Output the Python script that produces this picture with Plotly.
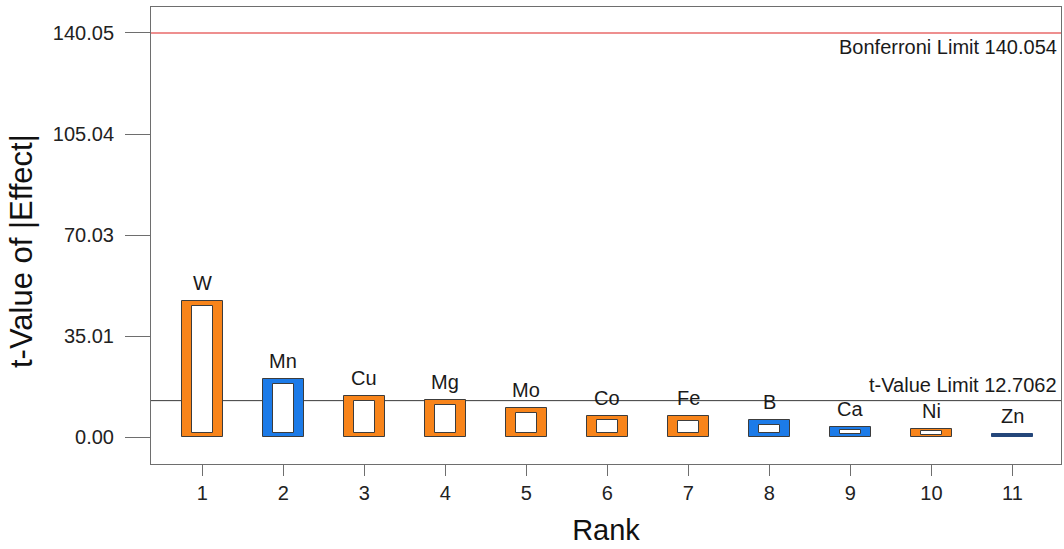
import plotly.graph_objects as go

# Pareto chart of standardized effects (t-value of |effect|) by rank
ranks = [1, 2, 3, 4, 5, 6, 7, 8, 9, 10, 11]
factors = ["W", "Mn", "Cu", "Mg", "Mo", "Co", "Fe", "B", "Ca", "Ni", "Zn"]
t_values = [47.07, 20.2, 14.3, 13.0, 10.04, 7.48, 7.42, 5.88, 3.57, 2.87, 1.0]
effect_sign = ["+", "-", "+", "+", "+", "+", "+", "-", "-", "+", "-"]

t_limit = 12.7062
bonferroni_limit = 140.054
y_ticks = [bonferroni_limit * k / 4 for k in range(5)]
y_tick_text = [f"{v:.2f}" for v in y_ticks]

POS_COLOR = "#F8841A"
NEG_COLOR = "#1C7BE8"
EDGE = "#3C3C3C"
THIN = "#24467A"   # very short bars collapse to their dark outline
AXIS = "#6E6E6E"
FONT = "Liberation Sans, Arial, sans-serif"

bar_colors = [(POS_COLOR if s == "+" else NEG_COLOR) if v > 1.5 else THIN
              for s, v in zip(effect_sign, t_values)]
bar_edges = [EDGE if v > 1.5 else THIN for v in t_values]

# hollow look: a white inner box inset into each coloured bar
inset = [min(1.65, 0.28 * v) for v in t_values]
inner_base = [d if v > 1.5 else None for v, d in zip(t_values, inset)]
inner_h = [(v - 2 * d) if v > 1.5 else None for v, d in zip(t_values, inset)]

fig = go.Figure()
fig.add_trace(go.Bar(
    x=ranks, y=t_values, width=0.5,
    marker=dict(color=bar_colors, line=dict(color=bar_edges, width=1)),
    hoverinfo="skip", showlegend=False,
))
fig.add_trace(go.Bar(
    x=ranks, y=inner_h, base=inner_base, width=0.26,
    marker=dict(color="white", line=dict(color=EDGE, width=1)),
    hoverinfo="skip", showlegend=False,
))

for r, f, v in zip(ranks, factors, t_values):
    fig.add_annotation(x=r, y=v, text=f, showarrow=False, yanchor="bottom",
                       yshift=5, font=dict(size=20, color="#1A1A1A", family=FONT))

fig.add_shape(type="line", xref="paper", x0=0, x1=1, y0=t_limit, y1=t_limit,
              line=dict(color="#3A3A3A", width=1), layer="below")
fig.add_shape(type="line", xref="paper", x0=0, x1=1, y0=bonferroni_limit,
              y1=bonferroni_limit, line=dict(color="#E86A6A", width=1.5), layer="below")

fig.add_annotation(xref="paper", x=1, y=t_limit, text=f"t-Value Limit {t_limit}",
                   showarrow=False, xanchor="right", yanchor="bottom", xshift=-2, yshift=3,
                   font=dict(size=20, color="#1A1A1A", family=FONT))
fig.add_annotation(xref="paper", x=1, y=bonferroni_limit,
                   text=f"Bonferroni Limit {bonferroni_limit}",
                   showarrow=False, xanchor="right", yanchor="top", xshift=-2, yshift=-1,
                   font=dict(size=20, color="#1A1A1A", family=FONT))

# y-axis title placed as rotated text left of the tick labels
fig.add_annotation(xref="paper", yref="paper", x=0, y=0.466, xshift=-130,
                   text="t-Value of |Effect|", textangle=-90, showarrow=False,
                   xanchor="center", yanchor="middle",
                   font=dict(size=31, color="#111111", family=FONT))

fig.update_layout(
    width=1064, height=549,
    margin=dict(l=151, r=3, t=7, b=85),
    paper_bgcolor="white", plot_bgcolor="white",
    barmode="overlay", bargap=0,
    font=dict(family=FONT, size=20, color="#222222"),
    xaxis=dict(
        range=[0.367, 11.6], tickmode="array", tickvals=ranks,
        ticks="outside", ticklen=11, tickcolor=AXIS, tickwidth=1,
        showline=True, linecolor=AXIS, linewidth=1, mirror=True,
        showgrid=False, zeroline=False, ticklabelstandoff=0,
        tickfont=dict(size=20, color="#222222"),
        title=dict(text="Rank", font=dict(size=29, color="#111111"), standoff=16),
    ),
    yaxis=dict(
        range=[-9.24, 149.05], tickmode="array", tickvals=y_ticks, ticktext=y_tick_text,
        ticks="outside", ticklen=25, tickcolor=AXIS, tickwidth=1,
        showline=True, linecolor=AXIS, linewidth=1, mirror=True,
        showgrid=False, zeroline=False, ticklabelstandoff=7,
        tickfont=dict(size=20, color="#222222"),
    ),
)

fig.write_html("out.html")
